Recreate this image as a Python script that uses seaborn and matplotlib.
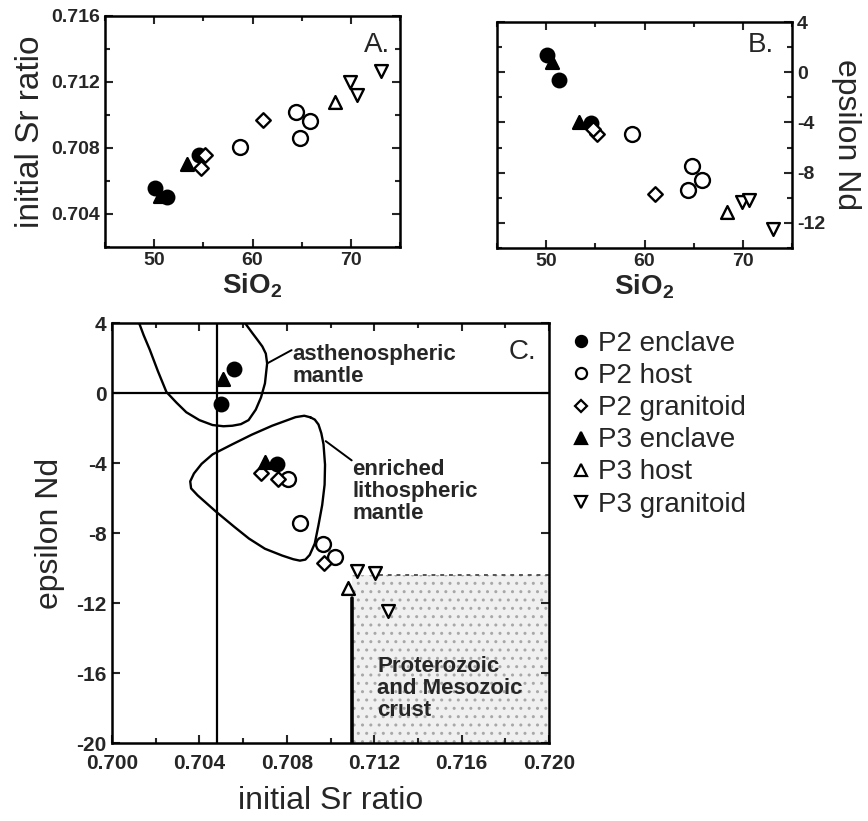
import matplotlib
matplotlib.use("Agg")
import matplotlib.pyplot as plt
import pandas as pd
import seaborn as sns
from matplotlib.lines import Line2D
from matplotlib.patches import Rectangle
from matplotlib.ticker import MultipleLocator


# Grupos de amostras (ordem da legenda).
GRUPOS = ["P2 enclave", "P2 host", "P2 granitoid", "P3 enclave", "P3 host", "P3 granitoid"]

# Dados: uma entrada por amostra.
grupo_amostra = [
    "P2 enclave", "P2 enclave", "P2 enclave",
    "P2 host", "P2 host", "P2 host", "P2 host",
    "P2 granitoid", "P2 granitoid", "P2 granitoid",
    "P3 enclave", "P3 enclave",
    "P3 host",
    "P3 granitoid", "P3 granitoid", "P3 granitoid",
]
sio2 = [50.1, 51.3, 54.6, 58.7, 64.8, 64.4, 65.8, 55.2, 54.8, 61.1, 50.6, 53.3, 68.4, 69.9, 70.65, 73.1]
sr_inicial = [0.70557, 0.70500, 0.70755, 0.70804, 0.70861, 0.71020, 0.70966, 0.70760, 0.70681, 0.70969,
              0.70508, 0.70702, 0.71079, 0.71203, 0.71120, 0.71264]
epsilon_nd = [1.4, -0.65, -4.05, -4.9, -7.45, -9.35, -8.6, -4.9, -4.55, -9.7, 0.8, -3.95, -11.15, -10.3, -10.15, -12.45]

# Campo do manto astenosferico (curva aberta).
asteno_sr = [0.70118, 0.70145, 0.70173, 0.70210, 0.70249, 0.70295, 0.70340, 0.70400, 0.70460, 0.70510,
             0.70551, 0.70590, 0.70625, 0.70658, 0.70682, 0.70700, 0.70710, 0.70704, 0.70688, 0.70665,
             0.70642, 0.70597]
asteno_nd = [4.2, 3.3, 2.47, 1.25, 0.06, -0.55, -1.10, -1.55, -1.83, -1.90, -1.87, -1.78, -1.55, -0.95,
             -0.25, 0.55, 1.69, 2.25, 2.66, 3.05, 3.43, 4.2]

# Campo do manto litosferico enriquecido (curva fechada).
enriq_sr = [0.70908, 0.70880, 0.70840, 0.70733, 0.70640, 0.70551, 0.70460, 0.70410, 0.70375, 0.70358,
            0.70362, 0.70392, 0.70476, 0.70560, 0.70627, 0.70700, 0.70779, 0.70830, 0.70860, 0.70885,
            0.70905, 0.70928, 0.70945, 0.70962, 0.70973, 0.70975, 0.70968, 0.70958, 0.70945, 0.70928,
            0.70908]
enriq_nd = [-1.39, -1.30, -1.38, -1.87, -2.38, -2.93, -3.51, -4.05, -4.60, -5.05, -5.45, -5.85, -6.78,
            -7.65, -8.32, -8.90, -9.29, -9.50, -9.58, -9.52, -9.25, -8.60, -7.55, -6.40, -5.24, -4.10,
            -2.93, -2.30, -1.80, -1.52, -1.39]

# Limites da crosta proterozoica e mesozoica.
CROSTA_SR_MIN = 0.711
CROSTA_ND_MAX = -10.4
CROSTA_LINHA_TOPO = -11.7
SR_TERRA = 0.7048

# Estilos dos marcadores por grupo.
MARCADORES = {"P2 enclave": "o", "P2 host": "o", "P2 granitoid": "D",
              "P3 enclave": "^", "P3 host": "^", "P3 granitoid": "v"}
PREENCHIDO = {"P2 enclave": True, "P2 host": False, "P2 granitoid": False,
              "P3 enclave": True, "P3 host": False, "P3 granitoid": False}
TAMANHOS = {"P2 enclave": 95, "P2 host": 115, "P2 granitoid": 55,
            "P3 enclave": 85, "P3 host": 85, "P3 granitoid": 85}

FONTE_TICK = {"fontsize": 14, "fontweight": "bold"}


def desenhar_pontos(ax, df, x, y):
    """Desenha cada grupo com o seu marcador."""
    for grupo in GRUPOS:
        sub = df[df["grupo"] == grupo]
        sns.scatterplot(
            data=sub, x=x, y=y, ax=ax,
            marker=MARCADORES[grupo],
            s=TAMANHOS[grupo],
            color="black" if PREENCHIDO[grupo] else "white",
            edgecolor="black",
            linewidth=1.7,
            legend=False,
            zorder=4,
        )


def ajustar_eixo(ax):
    ax.tick_params(which="both", direction="in", top=True, right=True, width=1.5)
    ax.tick_params(which="major", length=6)
    ax.tick_params(which="minor", length=3.5)
    for spine in ax.spines.values():
        spine.set_linewidth(1.8)
        spine.set_color("black")
    for lab in ax.get_xticklabels() + ax.get_yticklabels():
        lab.set_fontsize(FONTE_TICK["fontsize"])
        lab.set_fontweight(FONTE_TICK["fontweight"])


def main():
    df = pd.DataFrame({"grupo": grupo_amostra, "sio2": sio2, "sr": sr_inicial, "nd": epsilon_nd})

    sns.set_theme(style="ticks")
    plt.rcParams["font.family"] = ["Liberation Sans", "DejaVu Sans"]
    plt.rcParams["mathtext.fontset"] = "custom"
    plt.rcParams["mathtext.rm"] = "Liberation Sans"
    plt.rcParams["mathtext.bf"] = "Liberation Sans:bold"
    plt.rcParams["axes.unicode_minus"] = False

    fig = plt.figure(figsize=(8.68, 8.21), dpi=100)
    W, H = 868, 821
    ax_a = fig.add_axes([105 / W, 1 - 247 / H, 295 / W, 231 / H])
    ax_b = fig.add_axes([497 / W, 1 - 248 / H, 295 / W, 226 / H])
    ax_c = fig.add_axes([112 / W, 1 - 743 / H, 437 / W, 420 / H])

    # Painel A: Sr inicial vs SiO2
    desenhar_pontos(ax_a, df, "sio2", "sr")
    ax_a.set_xlim(45, 75)
    ax_a.set_ylim(0.702, 0.716)
    ax_a.xaxis.set_major_locator(MultipleLocator(10))
    ax_a.xaxis.set_minor_locator(MultipleLocator(5))
    ax_a.yaxis.set_major_locator(MultipleLocator(0.004))
    ax_a.yaxis.set_minor_locator(MultipleLocator(0.002))
    ax_a.set_yticks([0.704, 0.708, 0.712, 0.716])
    ax_a.set_yticklabels(["0.704", "0.708", "0.712", "0.716"])
    ax_a.set_xlabel(r"SiO$_\mathbf{2}$", fontsize=20, fontweight="bold", labelpad=2)
    ax_a.set_ylabel("initial Sr ratio", fontsize=24, labelpad=4)
    ax_a.text(0.965, 0.93, "A.", transform=ax_a.transAxes, ha="right", va="top", fontsize=20)
    ajustar_eixo(ax_a)

    # Painel B: epsilon Nd vs SiO2
    desenhar_pontos(ax_b, df, "sio2", "nd")
    ax_b.set_xlim(45, 75)
    ax_b.set_ylim(-14, 4)
    ax_b.xaxis.set_major_locator(MultipleLocator(10))
    ax_b.xaxis.set_minor_locator(MultipleLocator(5))
    ax_b.yaxis.set_major_locator(MultipleLocator(4))
    ax_b.yaxis.set_minor_locator(MultipleLocator(2))
    ax_b.yaxis.set_label_position("right")
    ax_b.tick_params(axis="y", labelleft=False, labelright=True)
    ax_b.set_xlabel(r"SiO$_\mathbf{2}$", fontsize=20, fontweight="bold", labelpad=2)
    ax_b.set_ylabel("epsilon Nd", fontsize=23, rotation=270, labelpad=26)
    ax_b.text(0.94, 0.955, "B.", transform=ax_b.transAxes, ha="right", va="top", fontsize=20)
    ajustar_eixo(ax_b)

    # Painel C: epsilon Nd vs Sr inicial
    ax_c.add_patch(Rectangle((CROSTA_SR_MIN, -20), 0.720 - CROSTA_SR_MIN, CROSTA_ND_MAX + 20,
                             facecolor="#f0f0f0", edgecolor="#a8a8a8", hatch="..", linewidth=0, zorder=0))
    ax_c.plot([CROSTA_SR_MIN + 0.0012, 0.720], [CROSTA_ND_MAX, CROSTA_ND_MAX],
              color="#555555", lw=1.4, ls=(0, (2, 2.5)), zorder=1)
    ax_c.plot([CROSTA_SR_MIN, CROSTA_SR_MIN], [-20, CROSTA_LINHA_TOPO], color="black", lw=2.6, zorder=2)
    ax_c.axvline(SR_TERRA, color="black", lw=1.6, zorder=2)
    ax_c.axhline(0, color="black", lw=1.6, zorder=2)
    ax_c.plot(asteno_sr, asteno_nd, color="black", lw=1.7, zorder=2)
    ax_c.plot(enriq_sr, enriq_nd, color="black", lw=1.7, zorder=2)
    ax_c.plot([0.70710, 0.70822], [1.69, 2.45], color="black", lw=1.4)
    ax_c.plot([0.70978, 0.71097], [-2.75, -3.85], color="black", lw=1.4)

    desenhar_pontos(ax_c, df, "sr", "nd")
    ax_c.set_xlim(0.700, 0.720)
    ax_c.set_ylim(-20, 4)
    ax_c.xaxis.set_major_locator(MultipleLocator(0.004))
    ax_c.xaxis.set_minor_locator(MultipleLocator(0.002))
    ax_c.yaxis.set_major_locator(MultipleLocator(4))
    ax_c.set_xticks([0.700, 0.704, 0.708, 0.712, 0.716, 0.720])
    ax_c.set_xticklabels(["0.700", "0.704", "0.708", "0.712", "0.716", "0.720"])
    ax_c.set_xlabel("initial Sr ratio", fontsize=23, labelpad=9)
    ax_c.set_ylabel("epsilon Nd", fontsize=23, labelpad=8)

    texto = {"fontsize": 16, "fontweight": "bold", "ha": "left", "va": "center", "linespacing": 1.05}
    ax_c.text(0.70825, 1.55, "asthenospheric\nmantle", **texto)
    ax_c.text(0.71100, -5.62, "enriched\nlithospheric\nmantle", **texto)
    ax_c.text(0.71215, -16.9, "Proterozoic\nand Mesozoic\ncrust", zorder=3, **texto)
    ax_c.text(0.97, 0.962, "C.", transform=ax_c.transAxes, ha="right", va="top", fontsize=20)
    ajustar_eixo(ax_c)
    ax_c.tick_params(axis="x", labelsize=15, pad=8)
    ax_c.tick_params(axis="y", labelsize=15, pad=4)

    # Legenda
    handles = [
        Line2D([], [], ls="none", marker=MARCADORES[g], markersize=8 if MARCADORES[g] != "D" else 6,
               markerfacecolor="black" if PREENCHIDO[g] else "white",
               markeredgecolor="black", markeredgewidth=1.6)
        for g in GRUPOS
    ]
    fig.legend(handles, GRUPOS, loc="upper left", bbox_to_anchor=(573 / W, 1 - 331 / H),
               frameon=False, fontsize=20, handlelength=0.6, handletextpad=0.3,
               labelspacing=0.22, borderpad=0, borderaxespad=0)

    fig.savefig("out.png", dpi=100)
    plt.close(fig)


if __name__ == "__main__":
    main()
